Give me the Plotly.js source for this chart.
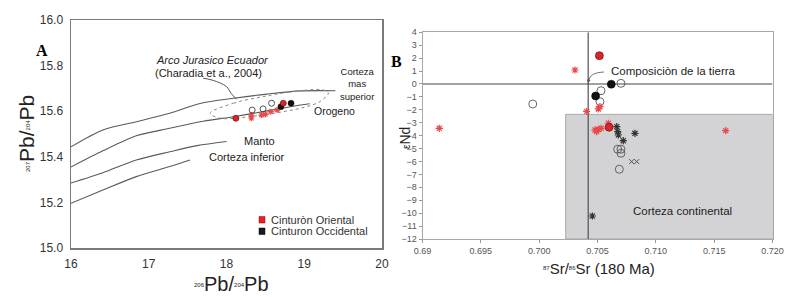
<!DOCTYPE html>
<html><head><meta charset="utf-8">
<script src="https://cdn.plot.ly/plotly-3.0.1.min.js"></script>
<style>html,body{margin:0;padding:0;background:#fff}#chart{width:795px;height:297px}</style>
</head><body><div id="chart"></div>
<script>
// ---------- Panel A data (206Pb/204Pb vs 207Pb/204Pb) ----------
const aOrientalX = [18.12, 18.73];
const aOrientalY = [15.569, 15.635];
const aOccidentalX = [18.70, 18.83];
const aOccidentalY = [15.620, 15.635];
const aOpenX = [18.33, 18.47, 18.58];
const aOpenY = [15.605, 15.610, 15.635];
const aStarX = [18.32, 18.32, 18.45, 18.50, 18.57, 18.65];
const aStarY = [15.583, 15.569, 15.583, 15.586, 15.598, 15.605];
// reference growth curves
const cSupX = [16, 16.41, 16.84, 17.27, 17.66, 18.09, 18.52, 18.95, 19.40];
const cSupY = [15.444, 15.518, 15.554, 15.591, 15.634, 15.657, 15.675, 15.689, 15.690];
const cOroX = [16, 16.41, 16.84, 17.27, 17.70, 18.09, 18.47, 18.95, 19.07];
const cOroY = [15.355, 15.426, 15.492, 15.525, 15.556, 15.576, 15.598, 15.627, 15.633];
const cMantoX = [16, 16.41, 16.84, 17.27, 17.62, 18.0];
const cMantoY = [15.285, 15.330, 15.386, 15.422, 15.449, 15.467];
const cInfX = [16, 16.41, 16.84, 17.27, 17.53];
const cInfY = [15.196, 15.254, 15.313, 15.357, 15.386];
// Arco Jurasico Ecuador field
const fieldX = [17.79, 18.09, 18.52, 18.95, 19.245, 19.31, 19.20, 19.03, 18.73, 18.30, 17.92, 17.79];
const fieldY = [15.591, 15.635, 15.667, 15.690, 15.693, 15.679, 15.642, 15.620, 15.598, 15.576, 15.569, 15.591];
const leaderX = [17.70, 17.83, 18.00, 18.06, 18.13];
const leaderY = [15.745, 15.735, 15.708, 15.678, 15.652];
const aTicksX = [16, 17, 18, 19, 20];
const aTicksY = [15.0, 15.2, 15.4, 15.6, 15.8, 16.0];

// ---------- Panel B data (87Sr/86Sr vs eNd) ----------
const bOrientalX = [0.70516, 0.70599];
const bOrientalY = [2.19, -3.35];
const bOccidentalX = [0.70618, 0.70484];
const bOccidentalY = [-0.02, -0.93];
const bOpenX = [0.70701, 0.70530, 0.70521, 0.69945, 0.70673, 0.70701, 0.70701, 0.70687];
const bOpenY = [0.05, -0.52, -1.37, -1.55, -5.05, -5.05, -5.36, -6.60];
const bRedStarX = [0.70307, 0.70521, 0.70507, 0.70407, 0.69144, 0.71599, 0.70479, 0.70507, 0.70493, 0.70531, 0.70593];
const bRedStarY = [1.08, -1.75, -1.93, -2.12, -3.43, -3.61, -3.56, -3.51, -3.69, -3.43, -3.04];
const bBlackStarX = [0.70665, 0.70673, 0.70679, 0.70721, 0.70821, 0.70456];
const bBlackStarY = [-3.30, -3.69, -3.95, -4.39, -3.82, -10.22];
const bCrossX = [0.70793, 0.70836];
const bCrossY = [-6.01, -6.01];
const bulkEarthSr = 0.7042;
const bulkEarthNd = 0;
const crustSrMin = 0.70227;
const crustNdMax = -2.35;
const bTicksX = [0.69, 0.695, 0.700, 0.705, 0.710, 0.715, 0.720];
const bTickText = ['0.69', '0.695', '0.700', '0.705', '0.710', '0.715', '0.720'];
const bTicksY = [4,3,2,1,0,-1,-2,-3,-4,-5,-6,-7,-8,-9,-10,-11,-12];

// ---------- helpers ----------
const W = 795, H = 297;
const px = v => v / W;
const py = v => 1 - v / H;
const RED = '#d8252a', STAR = '#e8494b';
const F = 'Liberation Sans, Arial, sans-serif';

const line = (x, y, xa, ya, extra) => Object.assign({x, y, xaxis: xa, yaxis: ya, mode: 'lines', hoverinfo: 'skip', showlegend: false,
  line: {color: '#5a5a5a', width: 1.1, shape: 'spline', smoothing: 0.8}}, extra || {});
const pts = (x, y, xa, ya, marker) => ({x, y, xaxis: xa, yaxis: ya, mode: 'markers', showlegend: false, marker});

const traces = [
  line(cSupX, cSupY, 'x', 'y'),
  line(cOroX, cOroY, 'x', 'y'),
  line(cMantoX, cMantoY, 'x', 'y'),
  line(cInfX, cInfY, 'x', 'y'),
  line(fieldX, fieldY, 'x', 'y', {line: {color: '#8a8a8a', width: 1, dash: 'dot', shape: 'spline', smoothing: 1}}),
  line(leaderX, leaderY, 'x', 'y', {line: {color: '#555', width: 1, shape: 'spline'}}),
  pts(aStarX, aStarY, 'x', 'y', {symbol: 'asterisk-open', size: 5, color: STAR, line: {color: STAR, width: 1.2}}),
  pts(aOpenX, aOpenY, 'x', 'y', {symbol: 'circle-open', size: 6, color: '#444', line: {color: '#444', width: 0.9}}),
  pts(aOccidentalX, aOccidentalY, 'x', 'y', {symbol: 'circle', size: 6, color: '#111', line: {color: '#000', width: 0.5}}),
  pts(aOrientalX, aOrientalY, 'x', 'y', {symbol: 'circle', size: 6, color: RED, line: {color: '#600', width: 0.6}}),

  pts(bOpenX, bOpenY, 'x2', 'y2', {symbol: 'circle-open', size: 8, color: '#555', line: {color: '#555', width: 0.9}}),
  pts(bCrossX, bCrossY, 'x2', 'y2', {symbol: 'x-thin-open', size: 5, color: '#555', line: {color: '#555', width: 1}}),
  pts(bBlackStarX, bBlackStarY, 'x2', 'y2', {symbol: 'asterisk-open', size: 6, color: '#333', line: {color: '#333', width: 1.2}}),
  pts(bRedStarX, bRedStarY, 'x2', 'y2', {symbol: 'asterisk-open', size: 6, color: STAR, line: {color: STAR, width: 1.2}}),
  pts(bOccidentalX, bOccidentalY, 'x2', 'y2', {symbol: 'circle', size: 8, color: '#111', line: {color: '#000', width: 0.5}}),
  pts(bOrientalX, bOrientalY, 'x2', 'y2', {symbol: 'circle', size: 8, color: RED, line: {color: '#600', width: 0.6}})
];

const txt = (text, x, y, o) => Object.assign({text, x: px(x), y: py(y), xref: 'paper', yref: 'paper', showarrow: false,
  xanchor: 'left', yanchor: 'middle', font: {family: F, size: 11, color: '#222'}}, o || {});
const small = s => "<span style='font-size:6px;baseline-shift:4px'>" + s + "</span>";

const annotations = [
  txt('A', 42, 50, {xanchor: 'center', font: {family: 'Liberation Serif, serif', size: 16, color: '#000', weight: 'bold'}}),
  txt('B', 396, 61, {xanchor: 'center', font: {family: 'Liberation Serif, serif', size: 16, color: '#000', weight: 'bold'}}),
  txt('<i>Arco Jurasico Ecuador</i>', 212, 60, {xanchor: 'center'}),
  txt('(Charadia et a., 2004)', 208, 73, {xanchor: 'center'}),
  txt('Corteza<br>mas<br>superior', 338, 84, {font: {family: F, size: 9.5, color: '#222'}}),
  txt('Orogeno', 312, 110.5, {font: {family: F, size: 10.5, color: '#222'}}),
  txt('Manto', 242, 141),
  txt('Corteza inferior', 207, 157),
  txt('Cinturòn Oriental', 269, 220, {font: {family: F, size: 11, color: '#333'}}),
  txt('Cinturon Occidental', 269, 231, {font: {family: F, size: 11, color: '#333'}}),
  txt(small('206') + 'Pb/' + small('204') + 'Pb', 231, 284, {xanchor: 'center', font: {family: F, size: 20, color: '#222'}}),
  txt(small('207') + 'Pb/' + small('204') + 'Pb', 27, 134, {xanchor: 'center', textangle: -90, font: {family: F, size: 21, color: '#222'}}),
  txt('Composiciòn de la tierra', 609, 71.5, {font: {family: F, size: 11.5, color: '#222'}}),
  txt('Corteza continental', 682, 210.5, {xanchor: 'center', font: {family: F, size: 11.5, color: '#222'}}),
  txt(small('87') + 'Sr/' + small('86') + 'Sr (180 Ma)', 599, 268, {xanchor: 'center', font: {family: F, size: 15, color: '#222'}}),
  txt("<span style='font-size:10px'>ε</span>Nd", 405, 138, {xanchor: 'center', textangle: -90, font: {family: F, size: 14, color: '#222'}}),
  {x: bulkEarthSr, y: 0.06, xref: 'x2', yref: 'y2', ax: bulkEarthSr + 0.00008, ay: 0.55, axref: 'x2', ayref: 'y2',
   text: '', showarrow: true, arrowhead: 2, arrowsize: 0.8, arrowwidth: 0.9, arrowcolor: '#555'}
];

const shapes = [
  {type: 'rect', xref: 'x2', yref: 'y2', x0: crustSrMin, x1: 0.72, y0: -12, y1: crustNdMax, layer: 'below',
   fillcolor: '#d3d3d5', line: {color: '#9a9a9a', width: 0.8}},
  {type: 'line', xref: 'x2', yref: 'y2', x0: 0.69, x1: 0.72, y0: bulkEarthNd, y1: bulkEarthNd, layer: 'below', line: {color: '#444', width: 1.1}},
  {type: 'line', xref: 'x2', yref: 'y2', x0: bulkEarthSr, x1: bulkEarthSr, y0: -12, y1: 4, layer: 'below', line: {color: '#444', width: 1.1}},
  {type: 'path', xref: 'x2', yref: 'y2', path: 'M 0.70556,0.93 Q 0.70436,0.89 0.70425,0.3', line: {color: '#666', width: 0.9}}
];

const layout = {
  width: W, height: H, margin: {l: 0, r: 0, t: 0, b: 0},
  paper_bgcolor: '#fff', plot_bgcolor: '#fff', showlegend: false,
  xaxis: {domain: [px(71), px(382)], range: [16, 20], anchor: 'y', tickvals: aTicksX, showgrid: false, zeroline: false,
    showline: true, mirror: true, linecolor: '#7a7a7a', linewidth: 1.5, ticks: '', ticklabelstandoff: 4,
    tickfont: {family: F, size: 12, color: '#333'}},
  yaxis: {domain: [py(248), py(20)], range: [15, 16], anchor: 'x', tickvals: aTicksY, tickformat: '.1f', showgrid: false, zeroline: false,
    showline: true, mirror: true, linecolor: '#7a7a7a', linewidth: 1.5, ticks: '', ticklabelstandoff: 4,
    tickfont: {family: F, size: 12, color: '#333'}},
  xaxis2: {domain: [px(422.5), px(772.5)], range: [0.69, 0.72], anchor: 'y2', tickvals: bTicksX, ticktext: bTickText,
    showgrid: false, zeroline: false, showline: true, mirror: true, linecolor: '#a8a8a8', linewidth: 1,
    ticks: 'outside', ticklen: 3, tickcolor: '#999', tickfont: {family: F, size: 9, color: '#555'}},
  yaxis2: {domain: [py(239), py(32.3)], range: [-12, 4], anchor: 'x2', tickvals: bTicksY, showgrid: false, zeroline: false,
    showline: true, mirror: true, linecolor: '#a8a8a8', linewidth: 1,
    ticks: 'outside', ticklen: 3, tickcolor: '#999', tickfont: {family: F, size: 9, color: '#555'}},
  annotations, shapes
};

// legend squares (panel A)
layout.shapes.push(
  {type: 'rect', xref: 'paper', yref: 'paper', x0: px(259), x1: px(265), y0: py(223), y1: py(216.5), fillcolor: '#e3222a', line: {color: '#900', width: 0.5}},
  {type: 'rect', xref: 'paper', yref: 'paper', x0: px(259), x1: px(265), y0: py(234.5), y1: py(228), fillcolor: '#1a1a1a', line: {color: '#000', width: 0.5}}
);

Plotly.newPlot('chart', traces, layout, {staticPlot: true, displayModeBar: false});
</script>
</body></html>
